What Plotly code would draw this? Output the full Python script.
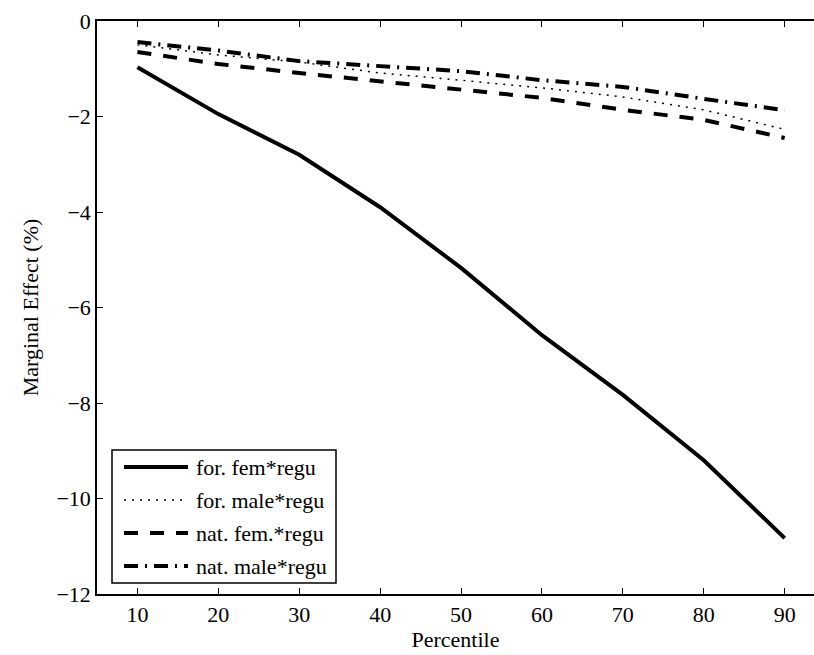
import plotly.graph_objects as go

# Percentile grid and marginal effects (%) for each interaction term
percentile = [10, 20, 30, 40, 50, 60, 70, 80, 90]
for_fem_regu = [-0.97, -1.95, -2.8, -3.9, -5.17, -6.58, -7.83, -9.2, -10.83]
for_male_regu = [-0.5, -0.71, -0.86, -1.09, -1.24, -1.40, -1.59, -1.86, -2.27]
nat_fem_regu = [-0.65, -0.90, -1.09, -1.26, -1.42, -1.61, -1.86, -2.07, -2.45]
nat_male_regu = [-0.44, -0.62, -0.84, -0.94, -1.05, -1.24, -1.38, -1.63, -1.87]

names = ["for. fem*regu", "for. male*regu", "nat. fem.*regu", "nat. male*regu"]
series = [for_fem_regu, for_male_regu, nat_fem_regu, nat_male_regu]
styles = [
    dict(color="black", width=4, dash="solid"),
    dict(color="black", width=1.5, dash="2px,6px"),
    dict(color="black", width=4, dash="14px,12px"),
    dict(color="black", width=4, dash="14px,7px,2px,7px"),
]

W, H = 814, 655
L, R, T, B = 97, 0, 21, 61
PW, PH = W - L - R, H - T - B
FONT = "Liberation Serif, Times New Roman, serif"
FS = 22

fig = go.Figure()
for name, ys, st in zip(names, series, styles):
    fig.add_trace(go.Scatter(x=percentile, y=ys, mode="lines", name=name,
                             line=st, showlegend=False))


def px(xp):
    return (xp - L) / PW


def py(yp):
    return 1 - (yp - T) / PH


# legend box drawn in paper coordinates
shapes = [dict(type="rect", xref="paper", yref="paper",
               x0=px(112), x1=px(336), y0=py(583), y1=py(450),
               line=dict(color="black", width=1.5), fillcolor="white", layer="above")]
annotations = []
row_y = [467, 500, 533, 566]
for name, st, yy in zip(names, styles, row_y):
    shapes.append(dict(type="line", xref="paper", yref="paper",
                       x0=px(124), x1=px(188), y0=py(yy), y1=py(yy),
                       line=st, layer="above"))
    annotations.append(dict(xref="paper", yref="paper", x=px(194), y=py(yy),
                            text=name, showarrow=False, xanchor="left",
                            yanchor="middle", font=dict(family=FONT, size=FS, color="black")))

fig.update_layout(
    width=W, height=H,
    margin=dict(l=L, r=R, t=T, b=B, pad=0),
    paper_bgcolor="white", plot_bgcolor="white",
    font=dict(family=FONT, size=FS, color="black"),
    shapes=shapes, annotations=annotations,
    showlegend=False,
)
fig.update_xaxes(range=[5, 5 + PW / 80.9 * 10], tickvals=percentile,
                 ticks="inside", ticklen=6, tickwidth=1, tickcolor="black",
                 showline=True, linecolor="black", linewidth=1.5, mirror="ticks",
                 showgrid=False, zeroline=False,
                 title=dict(text="Percentile", standoff=5, font=dict(size=FS)),
                 tickfont=dict(size=FS))
fig.update_yaxes(range=[-12, 0], tickvals=[0, -2, -4, -6, -8, -10, -12],
                 ticktext=["0", "\u22122", "\u22124", "\u22126", "\u22128", "\u221210", "\u221212"],
                 ticks="inside", ticklen=6, tickwidth=1, tickcolor="black",
                 showline=True, linecolor="black", linewidth=1.5,
                 showgrid=False, zeroline=False,
                 title=dict(text="Marginal Effect (%)", standoff=12, font=dict(size=FS)),
                 tickfont=dict(size=FS))

fig.write_html("out.html")
